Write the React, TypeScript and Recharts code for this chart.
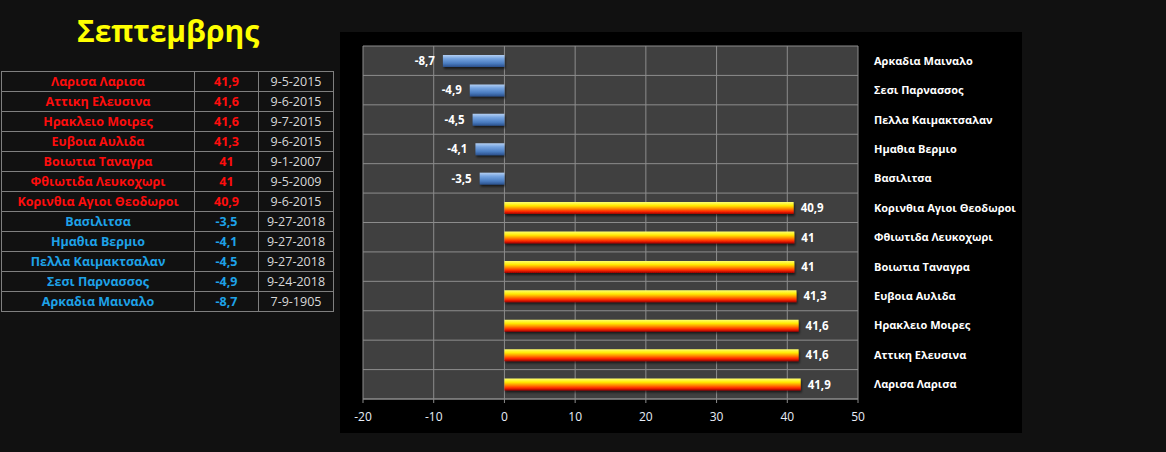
import React from 'react';
import { BarChart, Bar, XAxis, YAxis, CartesianGrid, Cell, LabelList } from 'recharts';

// table order (warmest first)
const stations = [
  'Λαρισα Λαρισα',
  'Αττικη Ελευσινα',
  'Ηρακλειο Μοιρες',
  'Ευβοια Αυλιδα',
  'Βοιωτια Ταναγρα',
  'Φθιωτιδα Λευκοχωρι',
  'Κορινθια Αγιοι Θεοδωροι',
  'Βασιλιτσα',
  'Ημαθια Βερμιο',
  'Πελλα Καιμακτσαλαν',
  'Σεσι Παρνασσος',
  'Αρκαδια Μαιναλο',
];
const temps = [41.9, 41.6, 41.6, 41.3, 41, 41, 40.9, -3.5, -4.1, -4.5, -4.9, -8.7];
const dates = [
  '9-5-2015', '9-6-2015', '9-7-2015', '9-6-2015', '9-1-2007', '9-5-2009',
  '9-6-2015', '9-27-2018', '9-27-2018', '9-27-2018', '9-24-2018', '7-9-1905',
];
const xTicks = [-20, -10, 0, 10, 20, 30, 40, 50];

const fmt = (v: number) => String(v).replace('.', ',');

const RED = '#ff0d0d';
const BLUE = '#1ea2e8';
const FONT = '"Open Sans", "DejaVu Sans", sans-serif';

const BarValueLabel = (props: any) => {
  const { x, y, width, height, value } = props;
  const left = Math.min(x, x + width);
  const right = Math.max(x, x + width);
  const neg = value < 0;
  return (
    <text
      x={neg ? left - 8 : right + 7}
      y={y + height / 2}
      dy={4}
      textAnchor={neg ? 'end' : 'start'}
      fill="#ffffff"
      fontSize={11.5}
      fontWeight="bold"
      fontFamily={FONT}
    >
      {fmt(value)}
    </text>
  );
};

const StationTick = (props: any) => {
  const { x, y, payload } = props;
  return (
    <text x={x + 14} y={y} dy={4} fill="#ffffff" fontSize={11} fontWeight="bold" fontFamily={FONT}>
      {payload.value}
    </text>
  );
};

export default function App() {
  const data = stations.map((name, i) => ({ name, value: temps[i] })).reverse();

  const rowLines = ({ offset }: any) => {
    const n = data.length;
    return Array.from({ length: n + 1 }, (_, i) => offset.top + (i * offset.height) / n);
  };

  return (
    <div
      style={{
        position: 'absolute',
        left: 0,
        top: 0,
        width: 1166,
        height: 452,
        background: '#111111',
        fontFamily: FONT,
        overflow: 'hidden',
      }}
    >
      <div
        style={{
          position: 'absolute',
          left: 0,
          width: 336,
          top: 10,
          textAlign: 'center',
          color: '#ffff00',
          fontWeight: 'bold',
          fontSize: 30,
          fontFamily: '"Open Sans", sans-serif',
        }}
      >
        Σεπτεμβρης
      </div>

      <table
        style={{
          position: 'absolute',
          left: 1,
          top: 71,
          borderCollapse: 'collapse',
          fontSize: 12.5,
        }}
      >
        <tbody>
          {stations.map((s, i) => {
            const c = temps[i] > 0 ? RED : BLUE;
            const cell = { border: '1px solid #7f7f7f', height: 19, padding: 0, textAlign: 'center' as const };
            return (
              <tr key={s}>
                <td style={{ ...cell, width: 192, color: c, fontWeight: 'bold' }}>{s}</td>
                <td style={{ ...cell, width: 63, color: c, fontWeight: 'bold' }}>{fmt(temps[i])}</td>
                <td style={{ ...cell, width: 74, color: '#d9d9d9' }}>{dates[i]}</td>
              </tr>
            );
          })}
        </tbody>
      </table>

      <div style={{ position: 'absolute', left: 340, top: 32, width: 682, height: 401, background: '#000' }}>
        <BarChart
          width={682}
          height={401}
          data={data}
          layout="vertical"
          margin={{ top: 14, right: 14, bottom: 0, left: 23 }}
          barSize={12}
        >
          <defs>
            <linearGradient id="gPos" x1="0" y1="0" x2="0" y2="1">
              <stop offset="0%" stopColor="#ffff70" />
              <stop offset="30%" stopColor="#ffea00" />
              <stop offset="55%" stopColor="#ff8a00" />
              <stop offset="78%" stopColor="#ff2a00" />
              <stop offset="100%" stopColor="#9a0000" />
            </linearGradient>
            <linearGradient id="gNeg" x1="0" y1="0" x2="0" y2="1">
              <stop offset="0%" stopColor="#b4d0f4" />
              <stop offset="30%" stopColor="#76a4e0" />
              <stop offset="70%" stopColor="#4a7cc0" />
              <stop offset="100%" stopColor="#2a4f8a" />
            </linearGradient>
            <filter id="shadow" x="-5%" y="-30%" width="110%" height="180%">
              <feDropShadow dx="1" dy="2" stdDeviation="1" floodColor="#000" floodOpacity="0.6" />
            </filter>
          </defs>
          <CartesianGrid
            fill="#404040"
            stroke="#8c8c8c"
            strokeWidth={1}
            horizontalCoordinatesGenerator={rowLines}
          />
          <XAxis
            type="number"
            domain={[-20, 50]}
            ticks={xTicks}
            height={34}
            stroke="#8c8c8c"
            tickSize={4}
            tickMargin={9}
            tick={{ fill: '#e8eef8', fontSize: 12, fontFamily: FONT }}
          />
          <YAxis
            type="category"
            dataKey="name"
            orientation="right"
            width={150}
            axisLine={false}
            tickLine={false}
            tickSize={0}
            tick={StationTick}
          />
          <Bar dataKey="value" isAnimationActive={false} filter="url(#shadow)">
            {data.map((d) => (
              <Cell key={d.name} fill={d.value < 0 ? 'url(#gNeg)' : 'url(#gPos)'} />
            ))}
            <LabelList dataKey="value" content={BarValueLabel} />
          </Bar>
        </BarChart>
      </div>
    </div>
  );
}
